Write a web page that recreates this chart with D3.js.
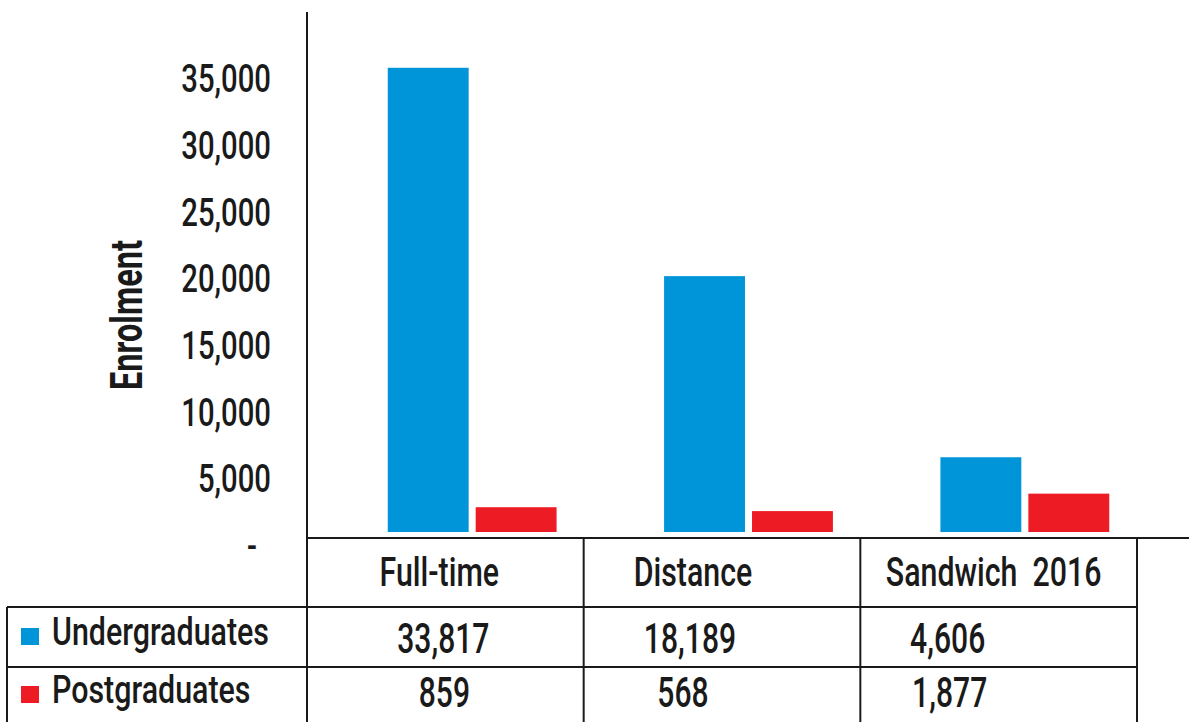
<!DOCTYPE html>
<html>
<head>
<meta charset="utf-8">
<script src="https://cdn.jsdelivr.net/npm/d3@7"></script>
<style>
  body { margin: 0; background: #fff; }
  svg text { white-space: pre; }
</style>
</head>
<body>
<div id="vis"></div>
<script>
// data
var categories = ["Full-time", "Distance", "Sandwich  2016"];
var seriesNames = ["Undergraduates", "Postgraduates"];
var undergraduates = [33817, 18189, 4606];
var postgraduates = [859, 568, 1877];
var yTicks = [0, 5000, 10000, 15000, 20000, 25000, 30000, 35000];
var seriesColors = ["#0094d9", "#ed1c24"];

var width = 1189, height = 722;
var font = "Roboto, 'DejaVu Sans Condensed', sans-serif";
var ink = "#1a1a1a";

var svg = d3.select("#vis")
  .append("svg")
    .attr("width", width)
    .attr("height", height)
    .style("font-family", font)
    .style("font-weight", 500);

// condensed look: squeeze text horizontally around its anchor
function label(parent, x, y, str, size, sx, anchor) {
  return parent.append("text")
    .attr("transform", "translate(" + x + "," + y + ") scale(" + sx + ",1)")
    .attr("text-anchor", anchor || "start")
    .style("font-size", size + "px")
    .attr("fill", ink)
    .text(str);
}

// plot area
var tableTop = 538, rowTop = [607, 667], tableBottom = 740;
var y = d3.scaleLinear()
  .domain([-1000, 38000])
  .range([532, 12]);

// table columns and bar groups (bars sit a bit right of the table columns)
var cols = d3.scaleBand().domain(categories).range([307, 1137]);
var x0 = d3.scaleBand()
  .domain(categories)
  .range([334, 1163])
  .paddingInner(0.389)
  .paddingOuter(0.1945);
var x1 = d3.scaleBand()
  .domain(seriesNames)
  .range([0, x0.bandwidth()])
  .paddingInner(0.08);

var rows = categories.map(function (c, i) {
  return { cat: c, values: [undergraduates[i], postgraduates[i]] };
});

// bars
var groups = svg.append("g")
  .selectAll("g")
  .data(rows)
  .enter()
  .append("g")
    .attr("transform", function (d) { return "translate(" + x0(d.cat) + ",0)"; });

groups.selectAll("rect")
  .data(function (d) { return d.values.map(function (v, j) { return { s: seriesNames[j], v: v, c: seriesColors[j] }; }); })
  .enter()
  .append("rect")
    .attr("x", function (d) { return x1(d.s); })
    .attr("y", function (d) { return y(d.v); })
    .attr("width", x1.bandwidth())
    .attr("height", function (d) { return y(-1000) - y(d.v); })
    .attr("fill", function (d) { return d.c; });

// y axis (labels sit a little below their values, as in the source)
var yAxis = svg.append("g")
  .attr("transform", "translate(307,0)")
  .call(d3.axisLeft(y)
    .tickValues(yTicks)
    .tickSize(0)
    .tickFormat(function (d) { return d === 0 ? "-" : d3.format(",")(d); }))
  .call(function (g) { g.select(".domain").remove(); });

yAxis.selectAll("text")
  .attr("x", 0)
  .attr("y", 0)
  .attr("dy", "0.36em")
  .attr("transform", function (d) { return "translate(" + (d === 0 ? -50 : -36) + ",26) scale(0.77,1)"; })
  .style("font-family", font)
  .style("font-size", "38px")
  .attr("fill", ink);

svg.append("line")
  .attr("x1", 307).attr("x2", 307)
  .attr("y1", y(38000)).attr("y2", tableTop)
  .attr("stroke", ink).attr("stroke-width", 2);

svg.append("text")
  .attr("transform", "translate(142,315) rotate(-90) scale(0.74,1)")
  .attr("text-anchor", "middle")
  .style("font-size", "44px")
  .style("font-weight", "bold")
  .attr("fill", ink)
  .text("Enrolment");

// data table
var table = svg.append("g")
  .attr("stroke", ink)
  .attr("stroke-width", 2);

table.append("line").attr("x1", 307).attr("x2", width).attr("y1", tableTop).attr("y2", tableTop);
rowTop.forEach(function (ry) {
  table.append("line").attr("x1", 7).attr("x2", 1137).attr("y1", ry).attr("y2", ry);
});
table.append("line").attr("x1", 7).attr("x2", 7).attr("y1", rowTop[0]).attr("y2", tableBottom);
categories.forEach(function (c) {
  table.append("line").attr("x1", cols(c)).attr("x2", cols(c)).attr("y1", tableTop).attr("y2", tableBottom);
});
table.append("line").attr("x1", 1137).attr("x2", 1137).attr("y1", tableTop).attr("y2", tableBottom);

// header labels
var headNudge = [-6, -29, -5];
var head = svg.append("g");
categories.forEach(function (c, i) {
  label(head, cols(c) + cols.bandwidth() / 2 + headNudge[i], 586, c, 41, 0.74, "middle");
});

// series rows: legend key, name, values
var nameBase = [645, 703];
var valueBase = [653, 707];
var valNudge = [[-2, -32, -51], [-1, -39, -49]];
var seriesData = [undergraduates, postgraduates];

seriesNames.forEach(function (s, j) {
  svg.append("rect")
    .attr("x", 21).attr("y", nameBase[j] - 17)
    .attr("width", 18).attr("height", 17)
    .attr("fill", seriesColors[j]);

  label(svg, 52, nameBase[j], s, 38, 0.8, "start");

  var g = svg.append("g");
  seriesData[j].forEach(function (v, i) {
    label(g, cols(categories[i]) + cols.bandwidth() / 2 + valNudge[j][i], valueBase[j],
      d3.format(",")(v), 43, 0.7, "middle");
  });
});
</script>
</body>
</html>
